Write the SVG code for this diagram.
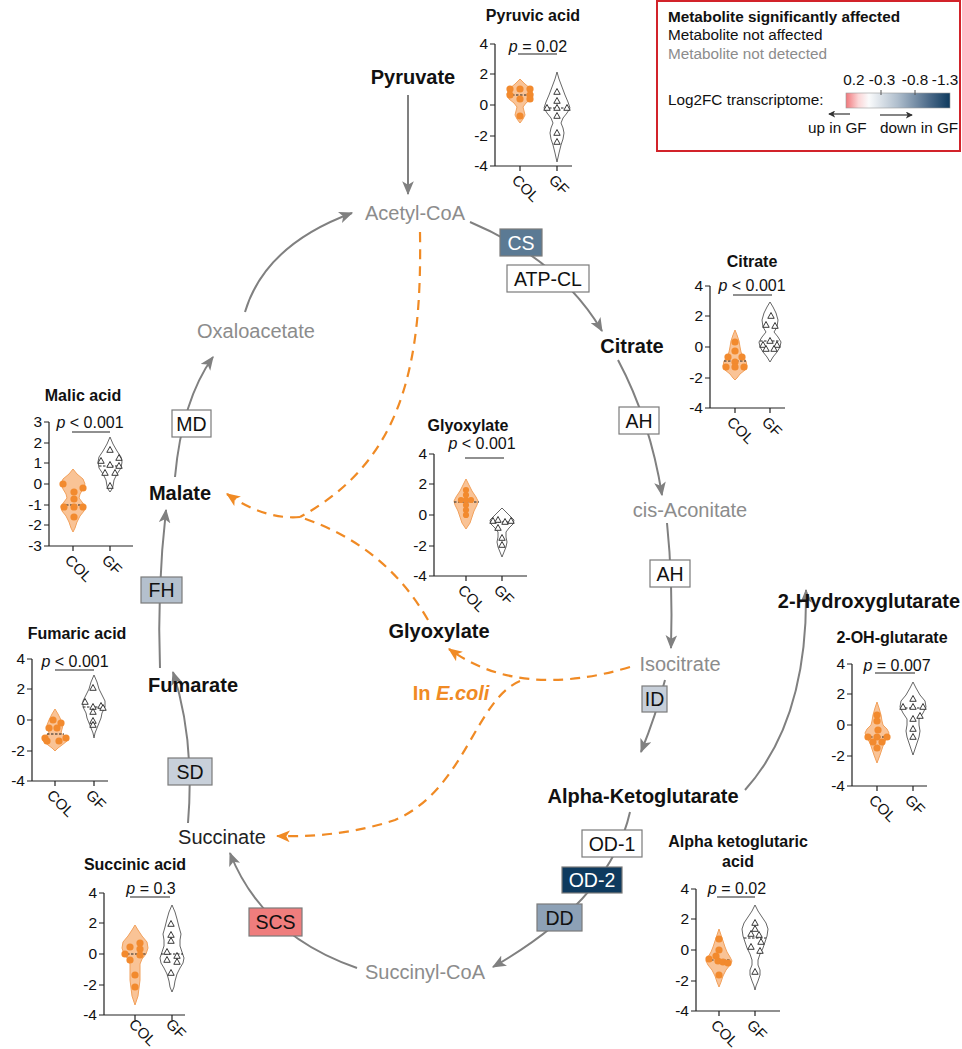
<svg xmlns="http://www.w3.org/2000/svg" width="962" height="1049" viewBox="0 0 962 1049">
<defs>
<style>
text{font-family:"Liberation Sans",Arial,sans-serif}
.ttl{font-size:16px;font-weight:bold;text-anchor:middle;fill:#111}
.pv{font-size:16px;text-anchor:middle;fill:#111}
.tk{font-size:15.5px;text-anchor:end;fill:#111}
.xl{font-size:15px;fill:#111}
.ax{stroke:#222;stroke-width:1.2;fill:none}
.bar{stroke:#222;stroke-width:1.1}
.vc{fill:#f8b47c;fill-opacity:.8;stroke:#f2a15c;stroke-width:1;stroke-linejoin:round}
.vg{fill:#fff;stroke:#555;stroke-width:.9;stroke-linejoin:round}
.pt{fill:#f28a2e}
.tr{fill:#fff;stroke:#222;stroke-width:.9}
.md{stroke:#222;stroke-width:1;stroke-dasharray:2.5 1.5}
.mb{font-size:20px;font-weight:bold;fill:#111;text-anchor:middle}
.mg{font-size:20px;fill:#8c8c8c;text-anchor:middle}
.mn{font-size:20px;fill:#222;text-anchor:middle}
.cn{stroke:#808080;stroke-width:2;fill:none;marker-end:url(#ah)}
.ds{stroke:#f08a24;stroke-width:2.2;fill:none;stroke-dasharray:10 7}
.dsa{marker-end:url(#oh)}
.ez rect{stroke:#7b7b7b;stroke-width:1.2}
.ez text{font-size:19.5px;text-anchor:middle;fill:#111}
.lg{font-size:15.3px;fill:#111}
</style>
<marker id="ah" viewBox="0 0 12 10" refX="11" refY="5" markerWidth="14" markerHeight="12" markerUnits="userSpaceOnUse" orient="auto"><path d="M0,0L12,5L0,10L3,5Z" fill="#808080"/></marker>
<marker id="oh" viewBox="0 0 12 10" refX="11" refY="5" markerWidth="14" markerHeight="12" markerUnits="userSpaceOnUse" orient="auto"><path d="M0,0L12,5L0,10L3,5Z" fill="#f08a24"/></marker>
<marker id="la" viewBox="0 0 8 8" refX="7" refY="4" markerWidth="7" markerHeight="7" markerUnits="userSpaceOnUse" orient="auto"><path d="M0,0L8,4L0,8L2,4Z" fill="#333"/></marker>
<path id="tri" d="M0,-3.5L3.2,2.3L-3.2,2.3Z"/>
<linearGradient id="lf" x1="0" y1="0" x2="1" y2="0">
<stop offset="0" stop-color="#f0777b"/>
<stop offset="0.12" stop-color="#fbd6d7"/>
<stop offset="0.22" stop-color="#fafbfc"/>
<stop offset="0.5" stop-color="#aebdcc"/>
<stop offset="0.8" stop-color="#4c6a89"/>
<stop offset="1" stop-color="#0e3a5e"/>
</linearGradient>
</defs>
<rect width="962" height="1049" fill="#fff"/>

<!-- connectors -->
<g id="connectors">
<path class="cn" d="M408,95V194"/>
<path class="cn" d="M470,222Q560,260 602,331"/>
<path class="cn" d="M618,360Q650,420 662,495"/>
<path class="cn" d="M667,523Q673,580 671,648"/>
<path class="cn" d="M665,680Q656,715 641,752"/>
<path class="cn" d="M745,790Q808,720 806,590"/>
<path class="cn" d="M630,812Q610,900 493,967"/>
<path class="cn" d="M357,968Q262,935 230,853"/>
<path class="cn" d="M188,823Q195,740 173,672"/>
<path class="cn" d="M160,668Q157,590 166,510"/>
<path class="cn" d="M175,477Q182,400 213,357"/>
<path class="cn" d="M245,312Q265,245 352,213"/>
<path class="ds" d="M420,232C422,360 405,460 300,517"/>
<path class="ds" d="M428,620Q385,545 300,517"/>
<path class="ds dsa" d="M300,517Q265,520 227,494"/>
<path class="ds dsa" d="M630,667Q520,700 449,649"/>
<path class="ds dsa" d="M520,681C475,700 465,790 395,820Q340,838 277,836"/>
</g>

<!-- metabolites -->
<g id="n-pyruvate"><text class="mb" x="413" y="84">Pyruvate</text></g>
<g id="n-acetylcoa"><text class="mg" x="415" y="220">Acetyl-CoA</text></g>
<g id="n-citrate"><text class="mb" x="632" y="353">Citrate</text></g>
<g id="n-cisaconitate"><text class="mg" x="690" y="517">cis-Aconitate</text></g>
<g id="n-isocitrate"><text class="mg" x="680" y="671">Isocitrate</text></g>
<g id="n-akg"><text class="mb" x="643" y="803">Alpha-Ketoglutarate</text></g>
<g id="n-2hg"><text class="mb" x="869" y="608">2-Hydroxyglutarate</text></g>
<g id="n-succinylcoa"><text class="mg" x="425" y="979">Succinyl-CoA</text></g>
<g id="n-succinate"><text class="mn" x="222" y="844">Succinate</text></g>
<g id="n-fumarate"><text class="mb" x="193" y="692">Fumarate</text></g>
<g id="n-malate"><text class="mb" x="180" y="500">Malate</text></g>
<g id="n-oxaloacetate"><text class="mg" x="256" y="338">Oxaloacetate</text></g>
<g id="n-glyoxylate"><text class="mb" x="439" y="638">Glyoxylate</text></g>
<g id="n-ecoli"><text x="451" y="700" text-anchor="middle" font-size="20" font-weight="bold" fill="#f08a24">In <tspan font-style="italic">E.coli</tspan></text></g>

<!-- enzymes -->
<g id="e-cs" class="ez"><rect x="500" y="229" width="42" height="27" fill="#5b7a94"/><text x="521" y="249.5" style="fill:#fff">CS</text></g>
<g id="e-atpcl" class="ez"><rect x="507" y="265" width="82" height="27" fill="#fff"/><text x="548" y="285.5">ATP-CL</text></g>
<g id="e-ah1" class="ez"><rect x="619" y="407" width="40" height="27" fill="#fff"/><text x="639" y="427.5">AH</text></g>
<g id="e-ah2" class="ez"><rect x="650" y="560" width="40" height="27" fill="#fff"/><text x="670" y="580.5">AH</text></g>
<g id="e-id" class="ez"><rect x="642" y="686" width="25" height="26" fill="#c7cfd9"/><text x="654.5" y="706">ID</text></g>
<g id="e-od1" class="ez"><rect x="582" y="830" width="60" height="27" fill="#fff"/><text x="612" y="850.5">OD-1</text></g>
<g id="e-od2" class="ez"><rect x="562" y="867" width="60" height="26" fill="#0e3a5e"/><text x="592" y="887" style="fill:#fff">OD-2</text></g>
<g id="e-dd" class="ez"><rect x="537" y="904" width="45" height="27" fill="#8da1b6"/><text x="559.5" y="924.5">DD</text></g>
<g id="e-scs" class="ez"><rect x="249" y="908" width="53" height="28" fill="#ef7d7d"/><text x="275.5" y="929">SCS</text></g>
<g id="e-sd" class="ez"><rect x="168" y="758" width="44" height="27" fill="#c8d0da"/><text x="190" y="778.5">SD</text></g>
<g id="e-fh" class="ez"><rect x="141" y="577" width="41" height="26" fill="#b4c0cd"/><text x="161.5" y="597">FH</text></g>
<g id="e-md" class="ez"><rect x="172" y="410" width="39" height="27" fill="#fff"/><text x="191.5" y="430.5">MD</text></g>

<!-- plots -->
<g id="plot-pyruvic" transform="translate(495,105)">
<text class="ttl" x="38" y="-84">Pyruvic acid</text>
<text class="pv" x="43" y="-53"><tspan font-style="italic">p</tspan> = 0.02</text>
<line class="bar" x1="23" y1="-51" x2="62" y2="-51"/>
<path class="ax" d="M0,-61V61H77M-5,-61H0M-5,-31H0M-5,0H0M-5,31H0M-5,61H0M25,61v5M62,61v5"/>
<text class="tk" x="-7" y="-56">4</text><text class="tk" x="-7" y="-26">2</text><text class="tk" x="-7" y="5">0</text><text class="tk" x="-7" y="36">-2</text><text class="tk" x="-7" y="66">-4</text>
<path class="vc" d="M25,-26L30,-21 36,-16 38,-11 36,-6 31,-2 28,2 29,6 30,10 28,14 25,18 22,14 20,10 21,6 22,2 19,-2 14,-6 12,-11 14,-16 20,-21Z"/>
<path class="vg" d="M62,-33L64,-26 67,-18 70,-10 73,-3 75,3 72,8 68,13 66,18 68,23 69,28 68,34 66,40 64,48 62,57 60,48 58,40 56,34 55,28 56,23 58,18 56,13 52,8 49,3 51,-3 54,-10 57,-18 60,-26Z"/>
<line class="md" x1="13" y1="-10" x2="37" y2="-10"/><line class="md" x1="50" y1="3" x2="74" y2="3"/>
<circle class="pt" cx="15" cy="-16" r="3.6"/><circle class="pt" cx="25" cy="-16" r="3.6"/><circle class="pt" cx="35" cy="-16" r="3.6"/><circle class="pt" cx="15" cy="-10" r="3.6"/><circle class="pt" cx="35" cy="-10" r="3.6"/><circle class="pt" cx="25" cy="-6" r="3.6"/><circle class="pt" cx="35" cy="-6" r="3.6"/><circle class="pt" cx="25" cy="11" r="3.6"/>
<use href="#tri" class="tr" x="62" y="-13"/><use href="#tri" class="tr" x="62" y="-4"/><use href="#tri" class="tr" x="52" y="3"/><use href="#tri" class="tr" x="62" y="3"/><use href="#tri" class="tr" x="72" y="3"/><use href="#tri" class="tr" x="62" y="11"/><use href="#tri" class="tr" x="62" y="28"/><use href="#tri" class="tr" x="62" y="37"/>
<text class="xl" transform="translate(16,76) rotate(45)">COL</text><text class="xl" transform="translate(53,76) rotate(45)">GF</text>
</g>

<g id="plot-citrate" transform="translate(710,347)">
<text class="ttl" x="42" y="-80">Citrate</text>
<text class="pv" x="42" y="-56"><tspan font-style="italic">p</tspan> &lt; 0.001</text>
<line class="bar" x1="23" y1="-52" x2="62" y2="-52"/>
<path class="ax" d="M0,-61V61H75M-5,-61H0M-5,-31H0M-5,0H0M-5,31H0M-5,61H0M25,61v5M60,61v5"/>
<text class="tk" x="-7" y="-56">4</text><text class="tk" x="-7" y="-26">2</text><text class="tk" x="-7" y="5">0</text><text class="tk" x="-7" y="36">-2</text><text class="tk" x="-7" y="66">-4</text>
<path class="vc" d="M25,-17L27,-12 29,-6 30,0 31,5 33,10 36,14 37,19 35,23 30,27 27,31 25,33 23,31 20,27 15,23 13,19 14,14 17,10 19,5 20,0 21,-6 23,-12Z"/>
<path class="vg" d="M60,-45L63,-40 66,-34 68,-27 67,-20 64,-15 68,-10 71,-5 70,0 67,5 63,10 60,15 57,10 53,5 50,0 49,-5 52,-10 56,-15 53,-20 52,-27 54,-34 57,-40Z"/>
<line class="md" x1="14" y1="14" x2="36" y2="14"/><line class="md" x1="50" y1="-6" x2="70" y2="-6"/>
<circle class="pt" cx="25" cy="-5" r="3.6"/><circle class="pt" cx="25" cy="4" r="3.6"/><circle class="pt" cx="18" cy="10" r="3.6"/><circle class="pt" cx="32" cy="10" r="3.6"/><circle class="pt" cx="25" cy="15" r="3.6"/><circle class="pt" cx="16" cy="20" r="3.6"/><circle class="pt" cx="25" cy="20" r="3.6"/><circle class="pt" cx="34" cy="20" r="3.6"/>
<use href="#tri" class="tr" x="61" y="-31"/><use href="#tri" class="tr" x="56" y="-22"/><use href="#tri" class="tr" x="65" y="-21"/><use href="#tri" class="tr" x="60" y="-6"/><use href="#tri" class="tr" x="53" y="-2"/><use href="#tri" class="tr" x="67" y="-2"/><use href="#tri" class="tr" x="56" y="2"/><use href="#tri" class="tr" x="64" y="2"/>
<text class="xl" transform="translate(16,76) rotate(45)">COL</text><text class="xl" transform="translate(51,76) rotate(45)">GF</text>
</g>

<g id="plot-malic" transform="translate(49,484)">
<text class="ttl" x="34" y="-83">Malic acid</text>
<text class="pv" x="41" y="-56"><tspan font-style="italic">p</tspan> &lt; 0.001</text>
<line class="bar" x1="23" y1="-52" x2="61" y2="-52"/>
<path class="ax" d="M0,-62V62H84M-5,-62H0M-5,-41H0M-5,-21H0M-5,0H0M-5,21H0M-5,41H0M-5,62H0M24,62v5M61,62v5"/>
<text class="tk" x="-7" y="-57">3</text><text class="tk" x="-7" y="-36">2</text><text class="tk" x="-7" y="-16">1</text><text class="tk" x="-7" y="5">0</text><text class="tk" x="-7" y="26">-1</text><text class="tk" x="-7" y="46">-2</text><text class="tk" x="-7" y="67">-3</text>
<path class="vc" d="M24,-15L28,-10 34,-5 36,0 34,5 31,10 30,14 33,18 36,22 35,27 31,32 28,38 26,44 24,48 22,44 20,38 17,32 13,27 12,22 15,18 18,14 17,10 14,5 12,0 14,-5 20,-10Z"/>
<path class="vg" d="M61,-47L64,-40 68,-33 72,-27 73,-22 72,-16 68,-10 65,-4 64,2 63,5 61,8 59,5 58,2 57,-4 54,-10 50,-16 49,-22 50,-27 54,-33 58,-40Z"/>
<line class="md" x1="13" y1="21" x2="35" y2="21"/><line class="md" x1="50" y1="-18" x2="72" y2="-18"/>
<circle class="pt" cx="14" cy="0" r="3.6"/><circle class="pt" cx="25" cy="8" r="3.6"/><circle class="pt" cx="34" cy="4" r="3.6"/><circle class="pt" cx="25" cy="15" r="3.6"/><circle class="pt" cx="15" cy="23" r="3.6"/><circle class="pt" cx="25" cy="23" r="3.6"/><circle class="pt" cx="34" cy="23" r="3.6"/><circle class="pt" cx="25" cy="33" r="3.6"/>
<use href="#tri" class="tr" x="61" y="-34"/><use href="#tri" class="tr" x="52" y="-23"/><use href="#tri" class="tr" x="70" y="-26"/><use href="#tri" class="tr" x="61" y="-19"/><use href="#tri" class="tr" x="70" y="-18"/><use href="#tri" class="tr" x="56" y="-11"/><use href="#tri" class="tr" x="66" y="-11"/><use href="#tri" class="tr" x="61" y="2"/>
<text class="xl" transform="translate(15,77) rotate(45)">COL</text><text class="xl" transform="translate(52,77) rotate(45)">GF</text>
</g>

<g id="plot-glyoxylate" transform="translate(434,515)">
<text class="ttl" x="34" y="-84">Glyoxylate</text>
<text class="pv" x="48" y="-66"><tspan font-style="italic">p</tspan> &lt; 0.001</text>
<line class="bar" x1="31" y1="-57" x2="70" y2="-57"/>
<path class="ax" d="M0,-61V61H93M-5,-61H0M-5,-31H0M-5,0H0M-5,31H0M-5,61H0M32,61v5M68,61v5"/>
<text class="tk" x="-7" y="-56">4</text><text class="tk" x="-7" y="-26">2</text><text class="tk" x="-7" y="5">0</text><text class="tk" x="-7" y="36">-2</text><text class="tk" x="-7" y="66">-4</text>
<path class="vc" d="M32,-36L35,-30 38,-24 42,-18 44,-14 43,-10 40,-4 38,2 36,8 32,14 28,8 26,2 24,-4 21,-10 20,-14 22,-18 26,-24 29,-30Z"/>
<path class="vg" d="M68,-7L72,-3 76,1 80,5 79,9 75,13 72,17 72,22 73,27 72,32 70,37 68,42 66,37 64,32 63,27 64,22 64,17 61,13 57,9 56,5 60,1 64,-3Z"/>
<line class="md" x1="20" y1="-13" x2="45" y2="-13"/><line class="md" x1="56" y1="7" x2="80" y2="7"/>
<circle class="pt" cx="32" cy="-25" r="3.1"/><circle class="pt" cx="32" cy="-20" r="3.1"/><circle class="pt" cx="27" cy="-15" r="3.1"/><circle class="pt" cx="32" cy="-15" r="3.1"/><circle class="pt" cx="37" cy="-15" r="3.1"/><circle class="pt" cx="32" cy="-10" r="3.1"/><circle class="pt" cx="32" cy="-5" r="3.1"/><circle class="pt" cx="32" cy="0" r="3.1"/>
<use href="#tri" class="tr" x="59" y="6"/><use href="#tri" class="tr" x="64" y="5"/><use href="#tri" class="tr" x="71" y="7"/><use href="#tri" class="tr" x="77" y="6"/><use href="#tri" class="tr" x="64" y="13"/><use href="#tri" class="tr" x="68" y="23"/><use href="#tri" class="tr" x="68" y="30"/>
<text class="xl" transform="translate(23,76) rotate(45)">COL</text><text class="xl" transform="translate(59,76) rotate(45)">GF</text>
</g>

<g id="plot-fumaric" transform="translate(32,720)">
<text class="ttl" x="45" y="-81">Fumaric acid</text>
<text class="pv" x="43" y="-53"><tspan font-style="italic">p</tspan> &lt; 0.001</text>
<line class="bar" x1="23" y1="-50" x2="62" y2="-50"/>
<path class="ax" d="M0,-61V61H76M-5,-61H0M-5,-31H0M-5,0H0M-5,31H0M-5,61H0M23,61v5M62,61v5"/>
<text class="tk" x="-7" y="-56">4</text><text class="tk" x="-7" y="-26">2</text><text class="tk" x="-7" y="5">0</text><text class="tk" x="-7" y="36">-2</text><text class="tk" x="-7" y="66">-4</text>
<path class="vc" d="M23,-11L26,-6 29,0 31,5 30,9 29,13 34,17 35,21 30,25 26,28 23,31 20,28 16,25 11,21 12,17 17,13 16,9 15,5 17,0 20,-6Z"/>
<path class="vg" d="M62,-45L65,-38 67,-31 70,-25 73,-19 73,-13 70,-7 69,-2 67,3 65,8 63,13 62,18 61,13 59,8 57,3 55,-2 54,-7 51,-13 51,-19 54,-25 57,-31 59,-38Z"/>
<line class="md" x1="15" y1="14" x2="32" y2="14"/><line class="md" x1="51" y1="-13" x2="73" y2="-13"/>
<circle class="pt" cx="21" cy="0" r="3.6"/><circle class="pt" cx="29" cy="3" r="3.6"/><circle class="pt" cx="25" cy="8" r="3.6"/><circle class="pt" cx="17" cy="8" r="3.6"/><circle class="pt" cx="13" cy="18" r="3.6"/><circle class="pt" cx="15" cy="21" r="3.6"/><circle class="pt" cx="27" cy="21" r="3.6"/><circle class="pt" cx="34" cy="18" r="3.6"/>
<use href="#tri" class="tr" x="61" y="-32"/><use href="#tri" class="tr" x="53" y="-18"/><use href="#tri" class="tr" x="61" y="-13"/><use href="#tri" class="tr" x="69" y="-14"/><use href="#tri" class="tr" x="71" y="-12"/><use href="#tri" class="tr" x="61" y="-8"/><use href="#tri" class="tr" x="61" y="1"/><use href="#tri" class="tr" x="61" y="5"/>
<text class="xl" transform="translate(14,76) rotate(45)">COL</text><text class="xl" transform="translate(53,76) rotate(45)">GF</text>
</g>

<g id="plot-2ohglutarate" transform="translate(852,725)">
<text class="ttl" x="40" y="-82">2-OH-glutarate</text>
<text class="pv" x="45" y="-54"><tspan font-style="italic">p</tspan> = 0.007</text>
<line class="bar" x1="23" y1="-52" x2="63" y2="-52"/>
<path class="ax" d="M0,-61V61H75M-5,-61H0M-5,-31H0M-5,0H0M-5,31H0M-5,61H0M25,61v5M61,61v5"/>
<text class="tk" x="-7" y="-56">4</text><text class="tk" x="-7" y="-26">2</text><text class="tk" x="-7" y="5">0</text><text class="tk" x="-7" y="36">-2</text><text class="tk" x="-7" y="66">-4</text>
<path class="vc" d="M25,-23L27,-17 29,-10 30,-4 31,0 35,4 37,8 35,13 32,18 30,24 28,30 25,38 22,30 20,24 18,18 15,13 13,8 15,4 19,0 20,-4 21,-10 23,-17Z"/>
<path class="vg" d="M61,-43L64,-37 68,-30 73,-24 74,-18 71,-12 67,-6 67,0 68,6 67,12 65,18 63,24 61,30 59,24 57,18 55,12 54,6 55,0 55,-6 51,-12 48,-18 49,-24 54,-30 58,-37Z"/>
<line class="md" x1="14" y1="12" x2="36" y2="12"/><line class="md" x1="49" y1="-17" x2="73" y2="-17"/>
<circle class="pt" cx="25" cy="-10" r="3.6"/><circle class="pt" cx="25" cy="-4" r="3.6"/><circle class="pt" cx="26" cy="5" r="3.6"/><circle class="pt" cx="16" cy="12" r="3.6"/><circle class="pt" cx="25" cy="12" r="3.6"/><circle class="pt" cx="35" cy="12" r="3.6"/><circle class="pt" cx="21" cy="17" r="3.6"/><circle class="pt" cx="30" cy="17" r="3.6"/><circle class="pt" cx="25" cy="23" r="3.6"/>
<use href="#tri" class="tr" x="61" y="-26"/><use href="#tri" class="tr" x="51" y="-18"/><use href="#tri" class="tr" x="61" y="-18"/><use href="#tri" class="tr" x="71" y="-18"/><use href="#tri" class="tr" x="68" y="-9"/><use href="#tri" class="tr" x="61" y="-6"/><use href="#tri" class="tr" x="61" y="4"/><use href="#tri" class="tr" x="61" y="12"/>
<text class="xl" transform="translate(16,76) rotate(45)">COL</text><text class="xl" transform="translate(52,76) rotate(45)">GF</text>
</g>

<g id="plot-succinic" transform="translate(104,954)">
<text class="ttl" x="31" y="-84">Succinic acid</text>
<text class="pv" x="47" y="-60"><tspan font-style="italic">p</tspan> = 0.3</text>
<line class="bar" x1="26" y1="-57" x2="66" y2="-57"/>
<path class="ax" d="M0,-61V61H81M-5,-61H0M-5,-31H0M-5,0H0M-5,31H0M-5,61H0M31,61v5M68,61v5"/>
<text class="tk" x="-7" y="-56">4</text><text class="tk" x="-7" y="-26">2</text><text class="tk" x="-7" y="5">0</text><text class="tk" x="-7" y="36">-2</text><text class="tk" x="-7" y="66">-4</text>
<path class="vc" d="M31,-29L34,-24 38,-18 43,-12 44,-6 42,0 38,5 36,10 36,18 36,26 35,34 34,42 32,48 31,51 30,48 28,42 27,34 26,26 26,18 26,10 24,5 20,0 18,-6 19,-12 24,-18 28,-24Z"/>
<path class="vg" d="M68,-49L71,-42 73,-35 75,-27 77,-20 76,-14 76,-8 78,-2 80,4 79,9 76,14 73,20 71,27 70,33 68,38 66,33 65,27 63,20 60,14 57,9 56,4 58,-2 60,-8 60,-14 59,-20 61,-27 63,-35 65,-42Z"/>
<line class="md" x1="19" y1="0" x2="43" y2="0"/><line class="md" x1="57" y1="0" x2="79" y2="0"/>
<circle class="pt" cx="26" cy="-7" r="3.6"/><circle class="pt" cx="36" cy="-11" r="3.6"/><circle class="pt" cx="21" cy="0" r="3.6"/><circle class="pt" cx="36" cy="-5" r="3.6"/><circle class="pt" cx="36" cy="1" r="3.6"/><circle class="pt" cx="26" cy="6" r="3.6"/><circle class="pt" cx="31" cy="21" r="3.6"/><circle class="pt" cx="31" cy="33" r="3.6"/>
<use href="#tri" class="tr" x="67" y="-30"/><use href="#tri" class="tr" x="67" y="-19"/><use href="#tri" class="tr" x="67" y="-13"/><use href="#tri" class="tr" x="63" y="-2"/><use href="#tri" class="tr" x="73" y="2"/><use href="#tri" class="tr" x="63" y="6"/><use href="#tri" class="tr" x="73" y="8"/><use href="#tri" class="tr" x="67" y="19"/>
<text class="xl" transform="translate(24,71) rotate(45)">COL</text><text class="xl" transform="translate(61,71) rotate(45)">GF</text>
</g>

<g id="plot-akg" transform="translate(696,950)">
<text class="ttl" x="42" y="-103">Alpha ketoglutaric</text>
<text class="ttl" x="42" y="-83">acid</text>
<text class="pv" x="41" y="-56"><tspan font-style="italic">p</tspan> = 0.02</text>
<line class="bar" x1="21" y1="-53" x2="59" y2="-53"/>
<path class="ax" d="M0,-61V61H84M-5,-61H0M-5,-31H0M-5,0H0M-5,31H0M-5,61H0M23,61v5M59,61v5"/>
<text class="tk" x="-7" y="-56">4</text><text class="tk" x="-7" y="-26">2</text><text class="tk" x="-7" y="5">0</text><text class="tk" x="-7" y="36">-2</text><text class="tk" x="-7" y="66">-4</text>
<path class="vc" d="M23,-21L25,-15 27,-9 29,-3 31,2 34,7 36,11 34,15 30,20 27,26 25,32 23,37 21,32 19,26 16,20 12,15 10,11 12,7 15,2 17,-3 19,-9 21,-15Z"/>
<path class="vg" d="M59,-45L62,-39 66,-33 70,-27 72,-21 71,-14 69,-8 67,-2 64,4 62,10 62,15 64,20 64,25 62,31 60,36 59,40 58,36 56,31 54,25 54,20 56,15 56,10 54,4 51,-2 49,-8 47,-14 46,-21 48,-27 52,-33 56,-39Z"/>
<line class="md" x1="11" y1="10" x2="35" y2="10"/><line class="md" x1="48" y1="-12" x2="70" y2="-12"/>
<circle class="pt" cx="23" cy="-11" r="3.6"/><circle class="pt" cx="23" cy="0" r="3.6"/><circle class="pt" cx="20" cy="6" r="3.6"/><circle class="pt" cx="13" cy="9" r="3.6"/><circle class="pt" cx="22" cy="11" r="3.6"/><circle class="pt" cx="27" cy="12" r="3.6"/><circle class="pt" cx="32" cy="13" r="3.6"/><circle class="pt" cx="23" cy="25" r="3.6"/>
<use href="#tri" class="tr" x="59" y="-27"/><use href="#tri" class="tr" x="59" y="-21"/><use href="#tri" class="tr" x="55" y="-16"/><use href="#tri" class="tr" x="63" y="-15"/><use href="#tri" class="tr" x="65" y="-8"/><use href="#tri" class="tr" x="55" y="-3"/><use href="#tri" class="tr" x="64" y="1"/><use href="#tri" class="tr" x="59" y="22"/>
<text class="xl" transform="translate(14,76) rotate(45)">COL</text><text class="xl" transform="translate(50,76) rotate(45)">GF</text>
</g>

<!-- legend -->
<g id="legend">
<rect x="657" y="1" width="303" height="150" fill="#fff" stroke="#d2232a" stroke-width="2"/>
<text class="lg" x="668" y="22" font-weight="bold">Metabolite significantly affected</text>
<text class="lg" x="668" y="40">Metabolite not affected</text>
<text class="lg" x="668" y="59" style="fill:#8c8c8c">Metabolite not detected</text>
<text class="lg" x="854" y="85" text-anchor="middle">0.2</text>
<text class="lg" x="882" y="85" text-anchor="middle">-0.3</text>
<text class="lg" x="915" y="85" text-anchor="middle">-0.8</text>
<text class="lg" x="945" y="85" text-anchor="middle">-1.3</text>
<text class="lg" x="668" y="105">Log2FC transcriptome:</text>
<rect x="846" y="93" width="104" height="15" fill="url(#lf)" stroke="#9a9a9a" stroke-width="0.6"/>
<path d="M881,90V95M915,90V95" stroke="#555" stroke-width="1"/>
<line x1="850" y1="114" x2="829" y2="114" stroke="#333" stroke-width="1.2" marker-end="url(#la)"/>
<line x1="880" y1="115" x2="912" y2="115" stroke="#333" stroke-width="1.2" marker-end="url(#la)"/>
<text class="lg" x="808" y="133">up in GF</text>
<text class="lg" x="880" y="133">down in GF</text>
</g>
</svg>
